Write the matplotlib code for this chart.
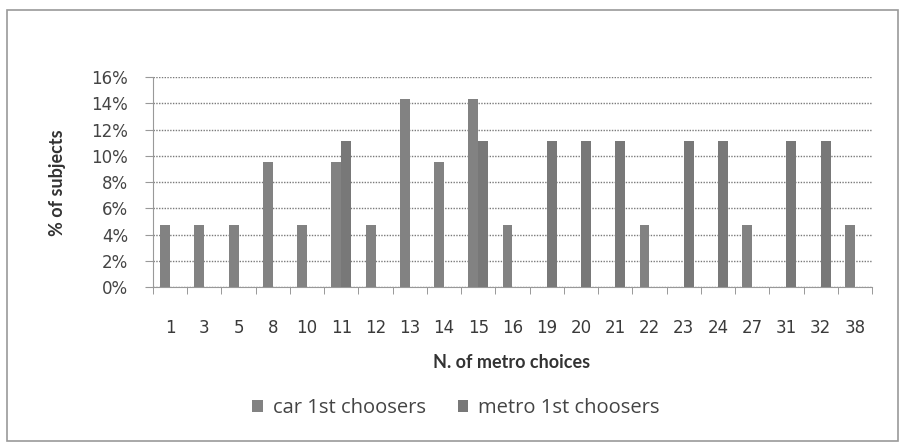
import matplotlib
matplotlib.use("Agg")
import matplotlib.pyplot as plt
import numpy as np
from matplotlib.patches import Rectangle
from matplotlib.ticker import FuncFormatter, MultipleLocator

plt.rcParams['font.family'] = ['DejaVu Sans']

categories = ["1", "3", "5", "8", "10", "11", "12", "13", "14", "15", "16",
              "19", "20", "21", "22", "23", "24", "27", "31", "32", "38"]
car = [4.76, 4.76, 4.76, 9.52, 4.76, 9.52, 4.76, 14.29, 9.52, 14.29, 4.76,
       0, 0, 0, 4.76, 0, 0, 4.76, 0, 0, 4.76]
metro = [0, 0, 0, 0, 0, 11.11, 0, 0, 0, 11.11, 0,
         11.11, 11.11, 11.11, 0, 11.11, 11.11, 0, 11.11, 11.11, 0]
series_names = ["car 1st choosers", "metro 1st choosers"]

W, H = 902, 443
fig = plt.figure(figsize=(W/100, H/100), dpi=100)
L, R, T, B = 153, 872, 77, 287
ax = fig.add_axes([L/W, 1-B/H, (R-L)/W, (B-T)/H])

x = np.arange(len(categories))
w = 0.29
ax.bar(x - w/2, car, width=w, color="#828282", label=series_names[0], zorder=3)
ax.bar(x + w/2, metro, width=w, color="#787878", label=series_names[1], zorder=3)

ax.set_xlim(-0.5, len(categories) - 0.5)
ax.set_ylim(0, 16)
ax.yaxis.set_major_locator(MultipleLocator(2))
ax.yaxis.set_major_formatter(FuncFormatter(lambda v, p: f"{int(round(v))}%"))
ax.grid(axis='y', linestyle=(0, (1, 1)), color="#7a7a7a", linewidth=1.0, zorder=0)

ax.set_xticks(x)
ax.set_xticklabels(categories)
ax.set_xticks(np.arange(len(categories) + 1) - 0.5, minor=True)
ax.tick_params(axis='x', which='major', length=0, pad=23, labelsize=12, colors="#3a3a3a")
ax.tick_params(axis='x', which='minor', length=5, color="#888888", direction='out')
ax.tick_params(axis='y', length=6, color="#999999", pad=12, labelsize=12, labelcolor="#444444")

for s in ['top', 'right']:
    ax.spines[s].set_visible(False)
for s in ['left', 'bottom']:
    ax.spines[s].set_color("#999999")

ax.set_ylabel("% of subjects", fontsize=13, fontweight='bold', color="#333333", fontfamily='Lato')
ax.set_xlabel("N. of metro choices", fontsize=13, fontweight='bold', color="#333333", fontfamily='Lato')
ax.xaxis.set_label_coords((512-L)/(R-L), (B-362)/(B-T))
ax.xaxis.label.set_va('center')
ax.yaxis.set_label_coords((57-L)/(R-L), (B-183)/(B-T))
ax.yaxis.label.set_va('center')

leg = fig.legend(loc='center', bbox_to_anchor=(456/W, 1-408/H), ncol=2, frameon=False,
                 prop={'family': 'Open Sans', 'size': 14.5},
                 handlelength=0.5, handleheight=0.5, handletextpad=0.5,
                 columnspacing=1.6)
for t in leg.get_texts():
    t.set_color("#444444")

fig.patches.append(Rectangle((7/W, 2/H), (898-7)/W, (433-2)/H, transform=fig.transFigure,
                             fill=False, edgecolor="#9a9a9a", linewidth=1.2))

fig.savefig("out.png", dpi=100)
